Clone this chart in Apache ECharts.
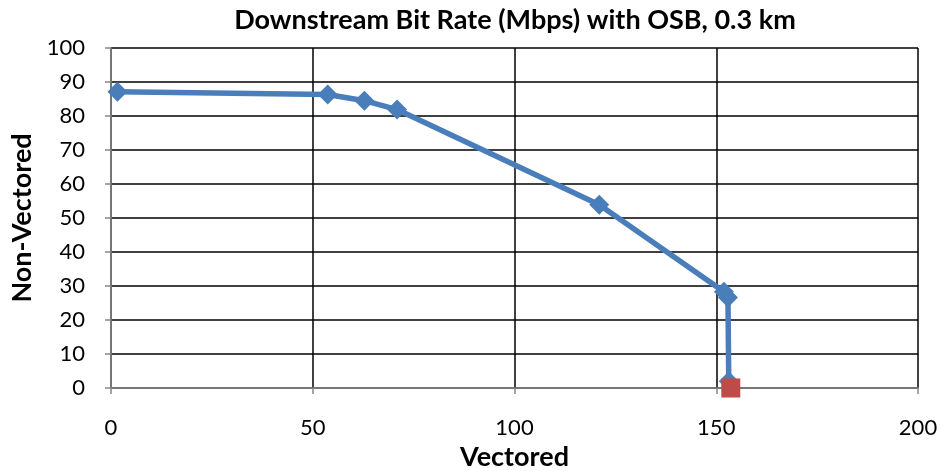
<!DOCTYPE html>
<html><head><meta charset="utf-8">
<script src="https://cdn.jsdelivr.net/npm/echarts@6/dist/echarts.min.js"></script>
<style>html,body{margin:0;padding:0;background:#fff}#c{width:941px;height:471px}</style>
</head><body><div id="c"></div>
<script>
const titleText = "Downstream Bit Rate (Mbps) with OSB, 0.3 km";
const xName = "Vectored";
const yName = "Non-Vectored";
const vectored = [1.6, 53.7, 62.8, 70.9, 121, 151.9, 152.9, 153.1];
const nonVectored = [87.1, 86.3, 84.5, 81.9, 53.9, 28.3, 26.6, 2];
const markerX = [153.6];
const markerY = [0];

const chart = echarts.init(document.getElementById('c'));
const font = 'Lato, "Open Sans", sans-serif';
chart.setOption({
  animation: false,
  title: { text: titleText, left: 510, top: 2, textAlign: 'center',
    textStyle: { fontFamily: font, fontWeight: 'bold', fontSize: 27, color: '#000' } },
  grid: { left: 111, right: 23, top: 48, bottom: 83, containLabel: false, outerBoundsMode: 'none' },
  xAxis: { type: 'value', min: 0, max: 200, interval: 50,
    name: xName, nameLocation: 'middle', nameGap: 56, nameMoveOverlap: false,
    nameTextStyle: { fontFamily: font, fontWeight: 'bold', fontSize: 27, color: '#000' },
    axisLine: { show: true, lineStyle: { color: '#888', width: 1.5 } },
    axisTick: { show: true, length: 6, lineStyle: { color: '#888', width: 1.5 } },
    axisLabel: { fontFamily: font, fontSize: 22, color: '#000', margin: 29 },
    splitLine: { show: true, lineStyle: { color: '#000', width: 1.5 } } },
  yAxis: { type: 'value', min: 0, max: 100, interval: 10,
    name: yName, nameLocation: 'middle', nameGap: 75, nameMoveOverlap: false,
    nameTextStyle: { fontFamily: font, fontWeight: 'bold', fontSize: 27, color: '#000' },
    axisLine: { show: true, lineStyle: { color: '#888', width: 1.5 } },
    axisTick: { show: true, length: 6, lineStyle: { color: '#888', width: 1.5 } },
    axisLabel: { fontFamily: font, fontSize: 22, color: '#000', margin: 26 },
    splitLine: { show: true, lineStyle: { color: '#000', width: 1.5 } } },
  series: [
    { type: 'line', data: vectored.map((v, i) => [v, nonVectored[i]]),
      symbol: 'diamond', symbolSize: 20, clip: false,
      lineStyle: { color: '#4A7EBB', width: 5.5 },
      itemStyle: { color: '#4A7EBB' } },
    { type: 'line', data: markerX.map((v, i) => [v, markerY[i]]),
      symbol: 'rect', symbolSize: 19, clip: false, z: 3,
      itemStyle: { color: '#BE4B48' }, lineStyle: { width: 0 } }
  ]
});
</script></body></html>
